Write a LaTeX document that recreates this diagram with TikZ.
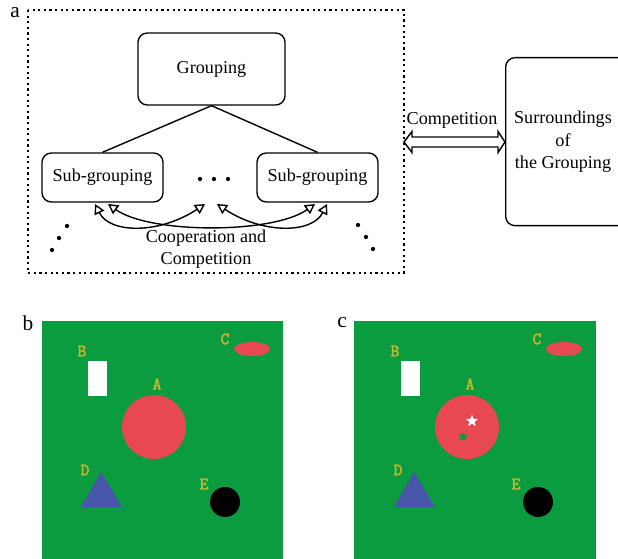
\documentclass[tikz,border=0pt]{standalone}
\usepackage{fontspec}
\setmainfont{Liberation Serif}
\newfontfamily\lblfont[FakeBold=2.2]{Latin Modern Mono}
\usetikzlibrary{arrows.meta,shapes.geometric}
\definecolor{field}{RGB}{10,156,62}
\definecolor{objred}{RGB}{232,72,82}
\definecolor{objblue}{RGB}{72,86,170}
\definecolor{lblyellow}{RGB}{204,184,46}
\tikzset{
  txt/.style={font=\fontsize{13.6}{17}\selectfont, inner sep=0pt},
  box/.style={draw, line width=1pt, rounded corners=7pt, inner sep=0pt},
  frame/.style={line width=1.8pt, dash pattern=on 1.7pt off 2.5pt},
  link/.style={line width=1.05pt},
  coop/.style={line width=1.05pt, {Triangle[open,length=7.5pt,width=8pt]}-{Triangle[open,length=7.5pt,width=8pt]}},
  objlbl/.style={font=\lblfont\fontsize{13}{13}\selectfont, text=lblyellow, inner sep=0pt},
  panellbl/.style={font=\fontsize{16}{16}\selectfont, inner sep=0pt},
  dot/.style={fill, circle, inner sep=0pt, minimum size=3.2pt},
}
\begin{document}
\begin{tikzpicture}[x=0.75pt,y=-0.75pt]
\clip (0,0) rectangle (618,559);
\fill[white] (0,0) rectangle (618,559);

% ---------- panel a: grouping hierarchy ----------
\node[panellbl] (la) at (15,13) {a};
\draw[frame] (28,10) rectangle (404,273);
\coordinate (frameE) at (404,142);

\node[box, minimum width=147*0.75pt, minimum height=72*0.75pt] (grp) at (211.5,69) {};
\node[txt] at (grp.center) {Grouping};
\node[box, minimum width=121*0.75pt, minimum height=49*0.75pt] (subL) at (102.5,177.5) {};
\node[txt] at (subL.center) {Sub-grouping};
\node[box, minimum width=121*0.75pt, minimum height=49*0.75pt] (subR) at (317.5,177.5) {};
\node[txt] at (subR.center) {Sub-grouping};

\draw[link] (grp.south) -- (subL.north);
\draw[link] (grp.south) -- (subR.north);

% ellipsis between the sub-groupings
\node[dot] (m1) at (200,179) {};
\node[dot] (m2) at (214,179) {};
\node[dot] (m3) at (228,179) {};
% diagonal ellipses
\node[dot] (l1) at (67,226) {};
\node[dot] (l2) at (59,238) {};
\node[dot] (l3) at (52,250) {};
\node[dot] (r1) at (358,225) {};
\node[dot] (r2) at (366,237) {};
\node[dot] (r3) at (373,249) {};

% arrow ends under each sub-grouping
\coordinate (aL1) at (95,204);
\coordinate (aL2) at (108,204);
\coordinate (aM1) at (205,204);
\coordinate (aM2) at (217,204);
\coordinate (aR1) at (315,204);
\coordinate (aR2) at (327,204);
\draw[coop] (aL1) .. controls (110,234) and (160,234) .. (aM1);
\draw[coop] (aL2) .. controls (150,234) and (273,234) .. (aR1);
\draw[coop] (aM2) .. controls (262,234) and (312,234) .. (aR2);

\node[txt, align=center] (coopt) at (206,249) {Cooperation and\\Competition};

% ---------- surroundings ----------
\node[box, minimum width=135*0.75pt, minimum height=168*0.75pt, anchor=north west] (sur) at (505,57) {};
\node[txt, align=center] (surt) at (563,142) {Surroundings\\of\\the Grouping};

% outlined double arrow between grouping and surroundings
\draw[line width=1.1pt, fill=white, line join=miter]
  (frameE) -- (412,131.5) -- (412,137) -- (498,137) -- (498,131.5)
  -- (sur.west |- frameE) -- (498,152.5) -- (498,147) -- (412,147) -- (412,152.5) -- cycle;
\node[txt] (compt) at (452,120) {Competition};

% ---------- panel b ----------
\node[panellbl] (lb) at (28,323) {b};
\fill[field] (42,321) rectangle (283,565);
\fill[white] (88,361) rectangle (107,396);
\fill[objred] (154,427) circle (32);
\fill[objred] (252,349) ellipse (18 and 7);
\fill[objblue] (101,472) -- (122,507) -- (81,507) -- cycle;
\fill[black] (225,502) circle (15);
\node[objlbl] at (157,384) {A};
\node[objlbl] at (82,351) {B};
\node[objlbl] at (225,339) {C};
\node[objlbl] at (85,470) {D};
\node[objlbl] at (204,484) {E};

% ---------- panel c ----------
\node[panellbl] (lc) at (342,323) {c};
\fill[field] (354,321) rectangle (596,565);
\fill[white] (401,361) rectangle (420,396);
\fill[objred] (467,427) circle (32);
\fill[objred] (564,349) ellipse (18 and 7);
\fill[objblue] (414,472) -- (435,507) -- (394,507) -- cycle;
\fill[black] (538,502) circle (15);
\node[star, star points=5, star point ratio=2.3, fill=white, inner sep=0pt, minimum size=9.5pt] (st) at (472,421) {};
\node[regular polygon, regular polygon sides=5, fill=field, inner sep=0pt, minimum size=6pt] (pg) at (463,437) {};
\node[objlbl] at (470,384) {A};
\node[objlbl] at (395,351) {B};
\node[objlbl] at (537,339) {C};
\node[objlbl] at (398,470) {D};
\node[objlbl] at (516,484) {E};
\end{tikzpicture}
\end{document}
